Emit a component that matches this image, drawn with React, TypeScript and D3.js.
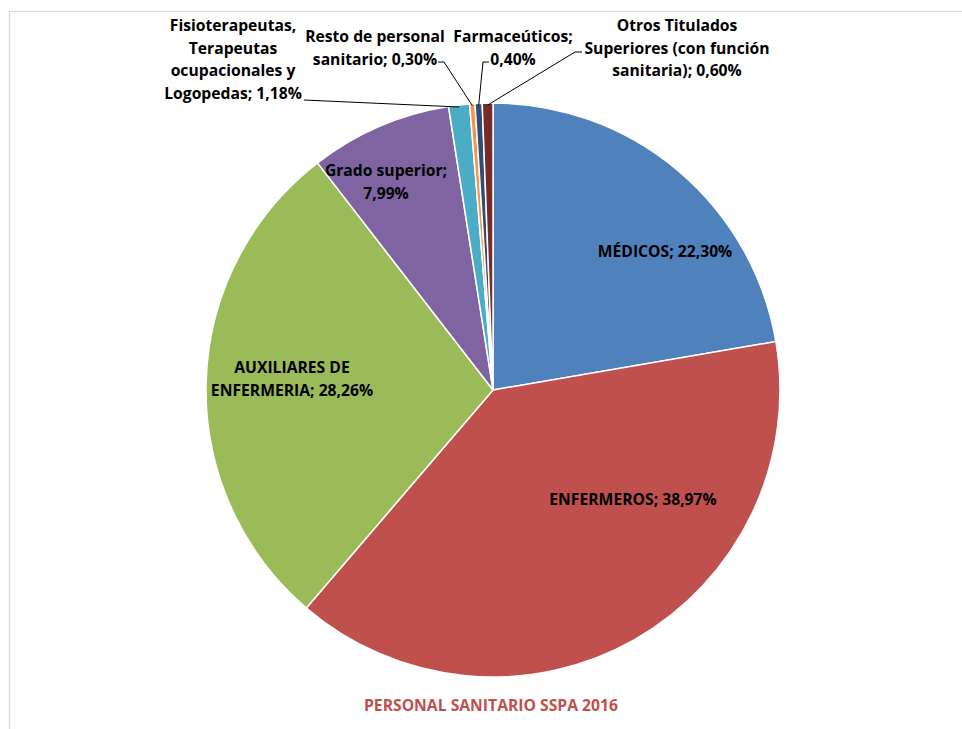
import React from "react";
import * as d3 from "d3";

const categories = [
  "MÉDICOS",
  "ENFERMEROS",
  "AUXILIARES DE ENFERMERIA",
  "Grado superior",
  "Fisioterapeutas, Terapeutas ocupacionales y Logopedas",
  "Resto de personal sanitario",
  "Farmaceúticos",
  "Otros Titulados Superiores (con función sanitaria)",
];
const values = [22.3, 38.97, 28.26, 7.99, 1.18, 0.3, 0.4, 0.6];
const valueLabels = ["22,30%", "38,97%", "28,26%", "7,99%", "1,18%", "0,30%", "0,40%", "0,60%"];
const colors = ["#4F81BD", "#C0504D", "#9BBB59", "#8064A2", "#4BACC6", "#F79646", "#2C4D75", "#772C2A"];
const labelLines = [
  ["MÉDICOS; 22,30%"],
  ["ENFERMEROS; 38,97%"],
  ["AUXILIARES DE", "ENFERMERIA; 28,26%"],
  ["Grado superior;", "7,99%"],
  ["Fisioterapeutas,", "Terapeutas", "ocupacionales y", "Logopedas; 1,18%"],
  ["Resto de personal", "sanitario; 0,30%"],
  ["Farmaceúticos;", "0,40%"],
  ["Otros Titulados", "Superiores (con función", "sanitaria); 0,60%"],
];
const title = "PERSONAL SANITARIO SSPA 2016";

// label layout (center x, first baseline y)
const labelPos: [number, number][] = [
  [665, 257],
  [633, 505],
  [292, 373],
  [386, 176],
  [233, 31],
  [375, 42],
  [513, 42],
  [677, 31],
];
// leader line points (label-side end)
const leaderPts: ([number, number][] | null)[] = [
  null,
  null,
  null,
  null,
  [[304, 100]],
  [[438, 62], [444, 62]],
  [[489, 62], [483, 62]],
  [[582, 52], [575, 52]],
];

export default function App() {
  const W = 962, H = 729;
  const cx = 493, cy = 390, r = 287;
  const pie = d3.pie<number>().sort(null).value((d) => d)(values);
  const arc = d3.arc<d3.PieArcDatum<number>>().innerRadius(0).outerRadius(r);
  const font = "'Open Sans', sans-serif";
  const lh = 22.5;
  const fs = 15.7;
  return (
    <svg width={W} height={H} style={{ position: "absolute", left: 0, top: 0, background: "#fff" }}>
      <rect x={9.5} y={11.5} width={W} height={H} fill="#fff" stroke="#d9d9d9" strokeWidth={1.2} />
      <g transform={`translate(${cx},${cy})`}>
        {pie.map((p, i) => (
          <path key={categories[i]} d={arc(p) || ""} fill={colors[i]} stroke="#fff" strokeWidth={1.5} />
        ))}
      </g>
      {pie.map((p, i) => {
        const pts = leaderPts[i];
        if (!pts) return null;
        const mid = (p.startAngle + p.endAngle) / 2;
        const ex = cx + Math.sin(mid) * (r - 2);
        const ey = cy - Math.cos(mid) * (r - 2);
        const all = [...pts, [ex, ey]] as [number, number][];
        return (
          <path key={"l" + i} d={d3.line()(all) || ""} fill="none" stroke="#000" strokeWidth={1} />
        );
      })}
      {labelLines.map((lines, i) => (
        <text
          key={"t" + i}
          x={labelPos[i][0]}
          y={labelPos[i][1]}
          textAnchor="middle"
          fontFamily={font}
          fontWeight="bold"
          fontSize={fs}
          fill="#000"
        >
          {lines.map((ln, j) => (
            <tspan key={j} x={labelPos[i][0]} y={labelPos[i][1] + j * lh}>
              {ln}
            </tspan>
          ))}
        </text>
      ))}
      <text x={491} y={711} textAnchor="middle" fontFamily={font} fontWeight="bold" fontSize={fs} fill="#C0504D">
        {title}
      </text>
    </svg>
  );
}
